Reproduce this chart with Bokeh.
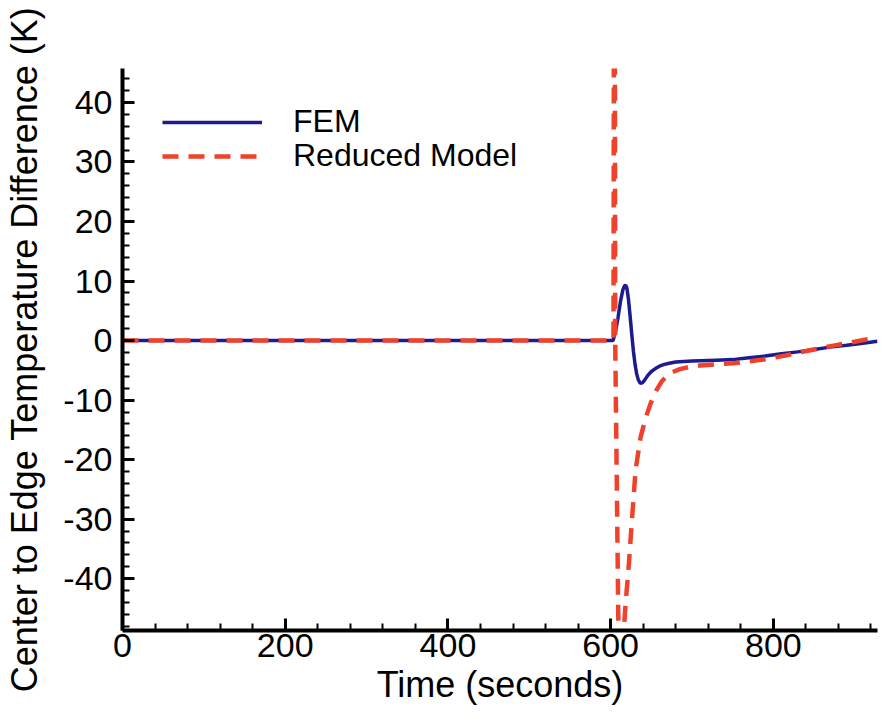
from bokeh.plotting import figure
from bokeh.models import Range1d, FixedTicker, Legend, LegendItem
from bokeh.embed import file_html
from bokeh.resources import INLINE

# FEM solution
fem_t = [0, 600, 603, 606, 609, 612, 615, 617, 618.5, 620, 622, 624, 626, 628, 630,
         632, 634, 636.5, 639, 642, 646, 650, 655, 660, 666, 672, 680, 690, 700, 710,
         730, 750, 770, 790, 810, 830, 850, 870, 890, 910, 928]
fem_y = [0, 0, 0, 1.5, 3.8, 6.5, 8.5, 9.2, 9.3, 8.8, 6.8, 4.0, 1.0, -1.8, -4.0,
         -5.6, -6.6, -7.2, -7.1, -6.6, -5.8, -5.2, -4.7, -4.3, -4.0, -3.8, -3.6, -3.5, -3.45, -3.4,
         -3.3, -3.2, -2.9, -2.6, -2.2, -1.9, -1.5, -1.1, -0.8, -0.45, -0.1]

# Reduced model
red_t = [0, 603.5, 604.6, 605.6, 611.5, 614.5, 618.3, 622.4, 626.4, 630.6, 636.7, 643,
         649, 656, 663, 670, 676, 685, 698, 710, 730, 751, 770, 792, 815, 842, 874, 900, 928]
red_y = [0, 0, 120, 0, -72, -52, -44.3, -37.5, -29.7, -21.8, -16.3, -13.0,
         -10.6, -8.4, -6.8, -5.9, -5.3, -4.8, -4.4, -4.2, -4.0, -3.8, -3.5, -3.1, -2.5, -1.7, -0.85, -0.2, 0.55]

x_major = [0, 200, 400, 600, 800]
x_minor = [v for v in range(0, 960, 40) if v % 200 != 0]
y_major = [-40, -30, -20, -10, 0, 10, 20, 30, 40]
y_minor = [v for v in range(-48, 46, 2) if v % 10 != 0]
y_labels = {v: str(v) for v in y_major}  # plain hyphen minus as in the original

FONT = "Liberation Sans"

p = figure(width=882, height=719, output_backend="svg", toolbar_location=None,
           x_range=Range1d(0, 928), y_range=Range1d(-48.7, 45.7),
           min_border_left=122, min_border_right=5, min_border_top=68, min_border_bottom=89,
           x_axis_label="Time (seconds)",
           y_axis_label="Center to Edge Temperature Difference (K)")
p.outline_line_color = None
p.grid.visible = False
p.background_fill_color = "white"
p.border_fill_color = "white"

r_fem = p.line(fem_t, fem_y, line_color="#1c1c8e", line_width=3.5)
r_red = p.line(red_t, red_y, line_color="#f0412b", line_width=4.5, line_dash="16 10")

for ax in (p.xaxis[0], p.yaxis[0]):
    ax.axis_line_width = 4
    ax.axis_line_color = "black"
    ax.major_tick_in = 12
    ax.major_tick_out = 0
    ax.minor_tick_in = 7
    ax.minor_tick_out = 0
    ax.major_tick_line_width = 3
    ax.minor_tick_line_width = 2
    ax.major_label_text_font = FONT
    ax.major_label_text_font_size = "34px"
    ax.major_label_text_color = "black"
    ax.axis_label_text_font = FONT
    ax.axis_label_text_font_style = "normal"
    ax.axis_label_text_color = "black"

p.xaxis.ticker = FixedTicker(ticks=x_major, minor_ticks=x_minor)
p.yaxis.ticker = FixedTicker(ticks=y_major, minor_ticks=y_minor)
p.yaxis.major_label_overrides = y_labels
p.xaxis.major_label_standoff = 3
p.yaxis.major_label_standoff = 10
p.xaxis.axis_label_text_font_size = "36px"
p.yaxis.axis_label_text_font_size = "36px"
p.xaxis.axis_label_standoff = 4
p.yaxis.axis_label_standoff = 15

leg_common = dict(padding=0, margin=0, spacing=0, glyph_width=100, glyph_height=28,
                  label_height=28, label_standoff=31, label_text_font=FONT,
                  label_text_font_size="32px", label_text_color="black",
                  border_line_color=None, background_fill_alpha=0)
leg1 = Legend(items=[LegendItem(label="FEM", renderers=[r_fem])],
              location=(40, 490), **leg_common)
leg2 = Legend(items=[LegendItem(label="Reduced Model", renderers=[r_red])],
              location=(40, 456), **leg_common)
p.add_layout(leg1)
p.add_layout(leg2)

open("out.html", "w").write(file_html(p, INLINE))
